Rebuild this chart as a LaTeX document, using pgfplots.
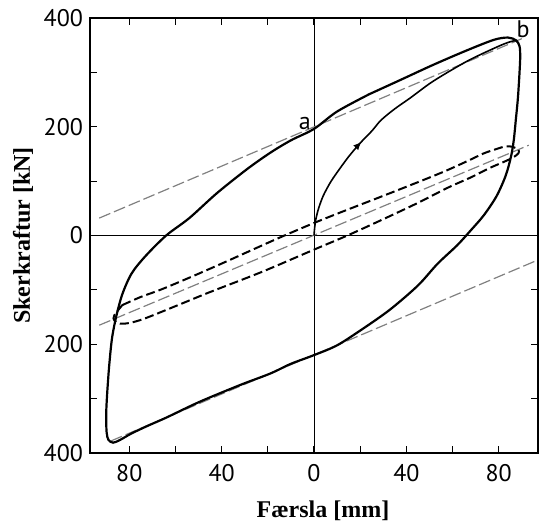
\documentclass[border=0pt]{standalone}
\usepackage{pgfplots}
\pgfplotsset{compat=1.18}
\usepackage{fontspec}
\setmainfont{Liberation Serif}
\newfontfamily\tickfont{PT Sans}
\usetikzlibrary{arrows.meta}

\begin{document}
\begin{tikzpicture}
\begin{axis}[
    name=ax,
    scale only axis,
    width=224pt, height=217.5pt,
    xmin=-97, xmax=97, ymin=-400, ymax=400,
    xtick={-80,-40,0,40,80}, xticklabels={80,40,0,40,80},
    minor xtick={-60,-20,20,60},
    ytick={-400,-200,0,200,400}, yticklabels={400,200,0,200,400},
    minor ytick={-300,-100,100,300},
    tick align=inside,
    major tick length=3.5pt, minor tick length=3.5pt,
    tick style={black, line width=0.6pt},
    axis line style={line width=0.7pt},
    /pgf/number format/assume math mode=true,
    ticklabel style={font=\tickfont\fontsize{12}{12}\selectfont},
    xticklabel style={yshift=-2pt},
    xlabel={\textbf{Færsla [mm]}}, ylabel={\textbf{Skerkraftur [kN]}},
    every axis x label/.style={at={(axis description cs:0.52,-0.133)}, anchor=center,
        font=\fontsize{12}{14}\selectfont},
    every axis y label/.style={at={(axis description cs:-0.1496,0.5)}, rotate=90, anchor=center,
        font=\fontsize{12}{14}\selectfont},
    clip=false,
]
% axes through the origin
\addplot[black, line width=0.5pt] coordinates {(0,-400) (0,400)};
\addplot[black, line width=0.5pt] coordinates {(-97,0) (97,0)};

% thin reference lines
\addplot[black!50, line width=0.6pt, dash pattern=on 6pt off 2pt] coordinates {(-93,32) (90,362)};
\addplot[black!50, line width=0.6pt, dash pattern=on 6pt off 2pt] coordinates {(-93,-165) (93,166)};
\addplot[black!50, line width=0.6pt, dash pattern=on 6pt off 2pt] coordinates {(-88,-378) (97,-45)};

% inner cycle (dashed)
\addplot[black, line width=1pt, dash pattern=on 4.5pt off 2pt, smooth, tension=0.5] coordinates {
(-83,-128) (-75,-113) (-66,-99) (-52,-74) (-37,-46) (-16,-6) (0,23) (13,45)
(27,68) (42,93) (56,117) (66,136) (73.5,151) (79,159) (83,164) (86,163)
(88.5,158) (88.5,151) (86,143) (82,135) (76,124) (68,107) (58,88) (45,60)
(30,30) (15,1) (0,-26) (-22.6,-67) (-45,-104) (-60,-130) (-73.5,-153)
(-80,-161) (-84,-162) (-86.5,-156) (-86.5,-147) (-83,-128)
};

% outer cycle
\addplot[black, line width=1.1pt, smooth, tension=0.5] coordinates {
(24,260) (37.4,286) (51.7,314) (66.5,341) (78,360) (84,364) (87.5,359)
(89,348) (89.3,330) (89,300) (88.3,253) (87.4,213) (86.5,175) (85.3,145)
(83,110) (79,72) (73.5,37) (68,10) (62,-18) (53.5,-52) (45,-92) (33,-136)
(21,-172) (10,-202) (0,-220) (-10,-236) (-19,-254) (-32,-275) (-49.6,-306)
(-64,-335) (-72,-350) (-79,-364) (-84,-376) (-87,-381) (-89,-376)
(-89.8,-362) (-90,-330) (-89.6,-293) (-88.7,-240) (-87.5,-190) (-85.7,-150)
(-83,-108) (-79,-70) (-73,-38) (-64,0) (-54,32) (-42,78) (-29,122)
(-19,152) (-10,175) (0,196) (10,228) (24,260)
};

% initial loading
\addplot[black, line width=0.8pt, smooth, tension=0.5] coordinates {
(0,0) (0.3,15) (0.8,30) (2,50) (4,73) (7,97) (10,116) (15,145) (20,170)
(25,192) (29,212) (35,233) (41.7,253) (51.7,284) (66.5,321) (81,350)
(86.5,358) (88,357)
};
\addplot[black, line width=0.6pt, -{Latex[length=4pt,width=3.5pt]}] coordinates {(18,161) (20.5,172)};

\node[font=\tickfont\fontsize{12}{12}\selectfont] at (axis cs:-4,206) {a};
\node[font=\tickfont\fontsize{12}{12}\selectfont] at (axis cs:90.5,380) {b};
\end{axis}
\path (ax.south west) +(-45pt,-35pt);
\path (ax.north east) +(0.5pt,9pt);
\end{tikzpicture}
\end{document}
